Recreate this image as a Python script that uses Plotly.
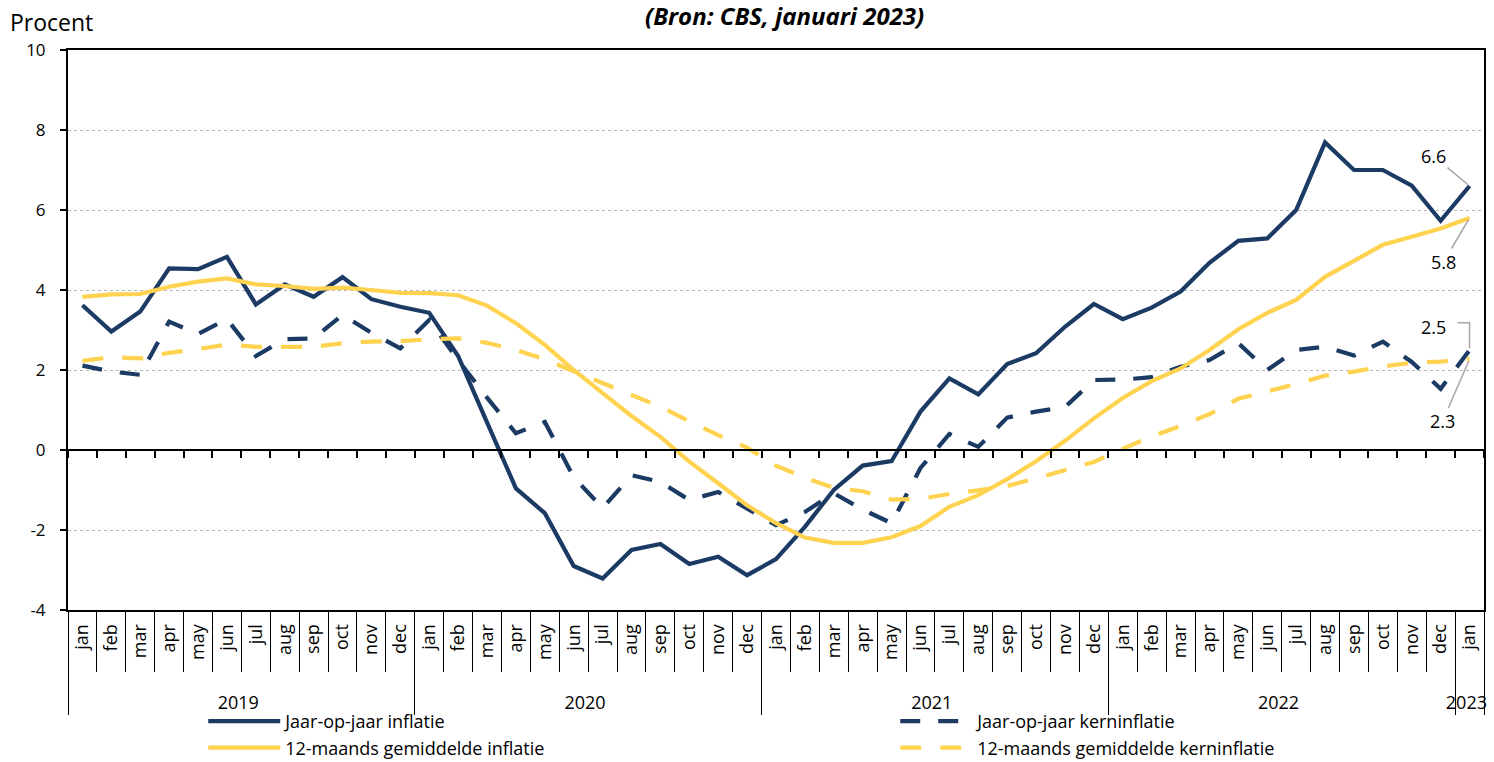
import plotly.graph_objects as go

# ---------------- data ----------------
month_names = ['jan', 'feb', 'mar', 'apr', 'may', 'jun', 'jul', 'aug', 'sep', 'oct', 'nov', 'dec']
months = month_names * 4 + ['jan']
years = ['2019'] * 12 + ['2020'] * 12 + ['2021'] * 12 + ['2022'] * 12 + ['2023']

yoy_inflatie = [
    3.62, 2.96, 3.46, 4.54, 4.52, 4.83, 3.64, 4.14, 3.83, 4.32, 3.77, 3.58,
    3.43, 2.35, 0.69, -0.96, -1.58, -2.90, -3.21, -2.50, -2.35, -2.85, -2.67, -3.13,
    -2.73, -1.92, -1.00, -0.39, -0.28, 0.96, 1.79, 1.39, 2.15, 2.42, 3.08, 3.65,
    3.27, 3.56, 3.96, 4.68, 5.23, 5.29, 6.00, 7.69, 7.00, 7.00, 6.61, 5.73,
    6.6,
]
gem_inflatie = [
    3.83, 3.89, 3.90, 4.08, 4.21, 4.29, 4.14, 4.10, 4.03, 4.06, 4.00, 3.93,
    3.92, 3.87, 3.61, 3.17, 2.63, 2.00, 1.42, 0.85, 0.33, -0.29, -0.83, -1.38,
    -1.83, -2.19, -2.32, -2.32, -2.18, -1.90, -1.42, -1.13, -0.73, -0.28, 0.23, 0.79,
    1.30, 1.72, 2.04, 2.50, 3.02, 3.43, 3.75, 4.33, 4.73, 5.13, 5.33, 5.54,
    5.8,
]
yoy_kern = [
    2.11, 1.96, 1.88, 3.21, 2.90, 3.27, 2.35, 2.77, 2.79, 3.38, 2.93, 2.54,
    3.25, 2.25, 1.31, 0.42, 0.70, -0.68, -1.45, -0.63, -0.80, -1.25, -1.05, -1.45,
    -1.88, -1.55, -1.08, -1.49, -1.83, -0.45, 0.40, 0.08, 0.81, 0.96, 1.07, 1.75,
    1.76, 1.82, 2.08, 2.25, 2.67, 2.00, 2.50, 2.58, 2.36, 2.71, 2.20, 1.53,
    2.5,
]
gem_kern = [
    2.23, 2.32, 2.29, 2.43, 2.52, 2.64, 2.58, 2.58, 2.58, 2.67, 2.71, 2.72,
    2.77, 2.79, 2.68, 2.50, 2.27, 1.97, 1.67, 1.38, 1.08, 0.72, 0.37, 0.06,
    -0.39, -0.69, -0.95, -1.03, -1.24, -1.22, -1.10, -1.01, -0.90, -0.71, -0.50, -0.30,
    0.03, 0.34, 0.60, 0.90, 1.28, 1.46, 1.65, 1.86, 1.96, 2.09, 2.18, 2.21,
    2.27,
]

series_names = [
    'Jaar-op-jaar inflatie',
    'Jaar-op-jaar kerninflatie',
    '12-maands gemiddelde inflatie',
    '12-maands gemiddelde kerninflatie',
]
end_labels = ['6.6', '2.5', '5.8', '2.3']
y_tickvals = [-4, -2, 0, 2, 4, 6, 8, 10]
y_ticktext = ['-4', '-2', '0', '2', '4', '6', '8', '10']

NAVY = '#1b3a64'
YELLOW = '#ffd24f'
FONT = 'Open Sans'

# month tick labels: leading no-break spaces only give the label row extra depth
month_ticks = ['\u00a0' * 4 + m for m in months]

fig = go.Figure()
x = [years, month_ticks]
styles = [
    (yoy_inflatie, NAVY, 'solid'),
    (yoy_kern, NAVY, '20px,18px'),
    (gem_inflatie, YELLOW, 'solid'),
    (gem_kern, YELLOW, '21px,19px'),
]
for (vals, col, dash), name in zip(styles, series_names):
    fig.add_trace(go.Scatter(x=x, y=vals, name=name, mode='lines',
                             line=dict(color=col, width=4.2, dash=dash)))

# invisible trace for the zero-line category axis (ticks on y=0)
fig.add_trace(go.Scatter(x=x, y=yoy_inflatie, xaxis='x2', mode='lines',
                         opacity=0, showlegend=False, hoverinfo='skip'))

ymin, ymax = -4, 10
n = len(months)
xrange_ = [-0.5, n - 0.5]

fig.update_layout(
    width=1494, height=762,
    margin=dict(l=68, r=10, t=50, b=152, autoexpand=False),
    paper_bgcolor='white', plot_bgcolor='white',
    font=dict(family=FONT, color='black', size=16),
    showlegend=True,
    legend=dict(orientation='h', x=0.0955, xanchor='left', y=-0.166, yanchor='top',
                entrywidth=605, entrywidthmode='pixels', font=dict(size=18),
                tracegroupgap=0, itemwidth=72, bgcolor='rgba(0,0,0,0)'),
    xaxis=dict(type='multicategory', range=xrange_, showline=True, linecolor='black',
               linewidth=2, mirror=True, ticks='outside', tickson='boundaries', ticklen=60,
               tickcolor='black', tickwidth=1, tickangle=-90, tickfont=dict(size=18),
               ticklabelstandoff=5,
               showdividers=True, dividercolor='black', dividerwidth=1,
               showgrid=False, zeroline=False),
    xaxis2=dict(type='multicategory', range=xrange_, overlaying='x', anchor='free',
                position=(0 - ymin) / (ymax - ymin), showticklabels=False,
                ticks='outside', tickson='boundaries', ticklen=7, tickcolor='black',
                tickwidth=1.5, showline=True, linecolor='black', linewidth=2,
                showgrid=False, showdividers=False, zeroline=False),
    yaxis=dict(range=[ymin, ymax], tickvals=y_tickvals, ticktext=y_ticktext, showgrid=True,
               gridcolor='#b5b5b5', griddash='dot', gridwidth=1,
               ticks='outside', ticklen=6, tickcolor='black', tickwidth=2,
               showline=True, linecolor='black', linewidth=2, mirror=True,
               zeroline=False, tickfont=dict(size=17), ticklabelstandoff=11),
)

# title / unit
fig.add_annotation(text='<b><i>(Bron: CBS, januari 2023)</i></b>', xref='paper', yref='paper',
                   x=0.506, y=1.0625, xanchor='center', showarrow=False,
                   font=dict(size=24), yanchor='middle')
fig.add_annotation(text='Procent', xref='paper', yref='paper', x=-0.0424, y=1.05,
                   xanchor='left', showarrow=False, font=dict(size=23), yanchor='middle')

# end-value labels with leader lines
xe = (n - 0.5) / n
fig.add_annotation(text=end_labels[0], xref='paper', yref='y', x=xe, y=yoy_inflatie[-1],
                   ax=-36, ay=-30, showarrow=True, arrowhead=0, arrowwidth=1.5,
                   arrowcolor='#a6a6a6', font=dict(size=18), standoff=2)
fig.add_annotation(text=end_labels[2], xref='paper', yref='y', x=xe, y=gem_inflatie[-1],
                   ax=-26, ay=44, showarrow=True, arrowhead=0, arrowwidth=1.5,
                   arrowcolor='#a6a6a6', font=dict(size=18), standoff=2)
fig.add_annotation(text=end_labels[3], xref='paper', yref='y', x=xe, y=gem_kern[-1],
                   ax=-27, ay=62, showarrow=True, arrowhead=0, arrowwidth=1.5,
                   arrowcolor='#a6a6a6', font=dict(size=18), standoff=2)
fig.add_annotation(text=end_labels[1], xref='paper', yref='y', x=xe, y=yoy_kern[-1],
                   xanchor='center', yanchor='middle', xshift=-36, yshift=23,
                   showarrow=False, font=dict(size=18))
fig.add_shape(type='path', xref='paper', yref='y',
              path=f'M {xe - 0.0085},{yoy_kern[-1] + 0.68} L {xe},{yoy_kern[-1] + 0.68} L {xe},{yoy_kern[-1] + 0.05}',
              line=dict(color='#a6a6a6', width=1.5))

fig.write_html('out.html', config={'displayModeBar': False},
               post_script="document.body.style.margin='0';document.body.style.overflow='hidden';")
